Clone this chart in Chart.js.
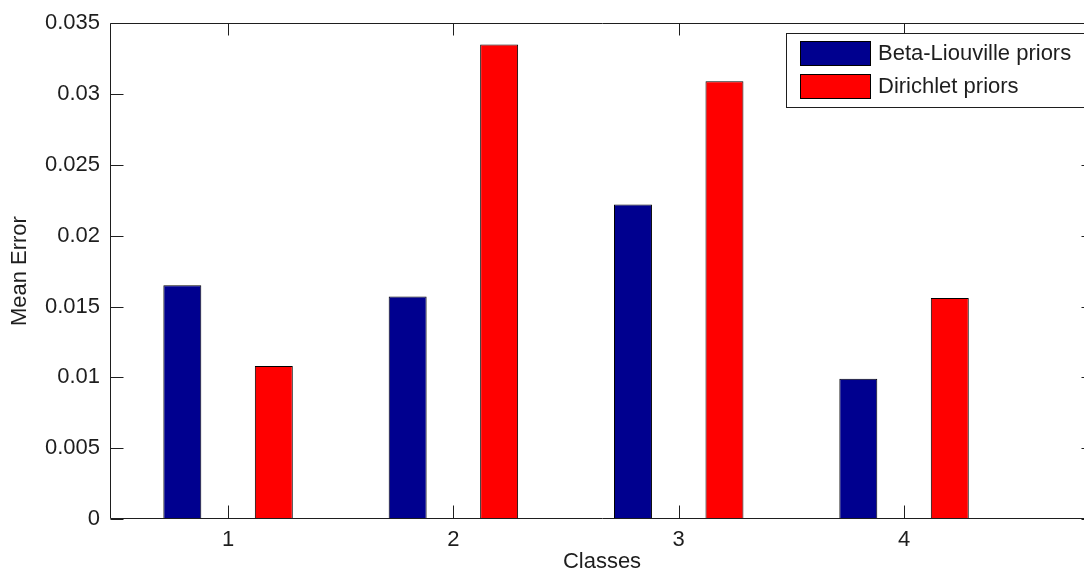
<!DOCTYPE html>
<html>
<head>
<meta charset="utf-8">
<script src="https://cdn.jsdelivr.net/npm/chart.js@4/dist/chart.umd.min.js"></script>
<style>
  html, body { margin: 0; padding: 0; background: #fff; overflow: hidden; }
  #wrap { position: absolute; left: 0; top: 0; width: 1100px; height: 571px; }
</style>
</head>
<body>
<div id="wrap"><canvas id="c"></canvas></div>
<script>
// Mean classification error per class for the two priors
const classes = [1, 2, 3, 4];
const betaLiouville = [0.0165, 0.0157, 0.0222, 0.0099];
const dirichlet = [0.0108, 0.0335, 0.0309, 0.0156];
const seriesNames = ['Beta-Liouville priors', 'Dirichlet priors'];
const yTicks = [0, 0.005, 0.01, 0.015, 0.02, 0.025, 0.03, 0.035];

const FONT = 'Liberation Sans, Arial, sans-serif';
const INK = '#1e1e1e';

// Box around the axes with inward tick marks on all four sides
const axesBox = {
  id: 'axesBox',
  afterDatasetsDraw(chart) {
    const { ctx, chartArea: a, scales: { x, y } } = chart;
    const L = Math.round(a.left) + 0.5, R = Math.round(a.right) + 0.5;
    const T = Math.round(a.top) + 0.5, B = Math.round(a.bottom) - 0.5;
    ctx.save();
    ctx.strokeStyle = INK;
    ctx.lineWidth = 1;
    ctx.beginPath();
    ctx.rect(L, T, R - L, B - T);
    y.ticks.forEach(t => {
      const py = Math.round(y.getPixelForValue(t.value)) + 0.5;
      ctx.moveTo(L, py); ctx.lineTo(L + 13, py);
      ctx.moveTo(R, py); ctx.lineTo(R - 13, py);
    });
    x.ticks.forEach(t => {
      const px = Math.round(x.getPixelForValue(t.value)) + 0.5;
      ctx.moveTo(px, B); ctx.lineTo(px, B - 13);
      ctx.moveTo(px, T); ctx.lineTo(px, T + 12);
    });
    ctx.stroke();
    ctx.restore();
  }
};

// Boxed legend in the upper right corner of the axes
const boxLegend = {
  id: 'boxLegend',
  afterDraw(chart) {
    const { ctx } = chart;
    const bx = 786, by = 33, bw = 300, bh = 74;
    ctx.save();
    ctx.fillStyle = '#fff';
    ctx.fillRect(bx, by, bw, bh);
    ctx.strokeStyle = INK;
    ctx.lineWidth = 1;
    ctx.strokeRect(bx + 0.5, by + 0.5, bw, bh);
    ctx.font = '22px ' + FONT;
    ctx.textBaseline = 'middle';
    ctx.textAlign = 'left';
    chart.data.datasets.forEach((ds, i) => {
      const sy = 41 + i * 33;
      ctx.fillStyle = ds.backgroundColor;
      ctx.fillRect(800, sy, 71, 25);
      ctx.strokeStyle = '#000';
      ctx.strokeRect(800.5, sy + 0.5, 70, 24);
      ctx.fillStyle = INK;
      ctx.fillText(ds.label, 878, sy + 13);
    });
    ctx.restore();
  }
};

new Chart(document.getElementById('c'), {
  type: 'bar',
  data: {
    datasets: [
      {
        label: seriesNames[0],
        data: classes.map((c, i) => ({ x: c, y: betaLiouville[i] })),
        backgroundColor: '#00008f',
        borderColor: '#000',
        borderWidth: 1,
        borderSkipped: false
      },
      {
        label: seriesNames[1],
        data: classes.map((c, i) => ({ x: c, y: dirichlet[i] })),
        backgroundColor: '#ff0000',
        borderColor: '#000',
        borderWidth: 1,
        borderSkipped: false
      }
    ]
  },
  options: {
    responsive: true,
    maintainAspectRatio: false,
    animation: false,
    devicePixelRatio: 1,
    categoryPercentage: 0.812,
    barPercentage: 0.415,
    layout: { padding: { left: 0, right: 6, top: 21, bottom: 0 } },
    plugins: { legend: { display: false }, tooltip: { enabled: false } },
    scales: {
      x: {
        type: 'linear',
        offset: false,
        min: 0.476,
        max: 4.843,
        afterBuildTicks: s => { s.ticks = classes.map(v => ({ value: v })); },
        afterFit: s => { s.height = 52; },
        grid: { display: false, drawTicks: false, tickLength: 0 },
        border: { display: false },
        ticks: {
          padding: 8,
          color: INK,
          font: { family: FONT, size: 22 },
          maxRotation: 0,
          autoSkip: false,
          callback: v => String(v)
        },
        title: {
          display: true,
          text: 'Classes',
          color: INK,
          font: { family: FONT, size: 22, lineHeight: 1 },
          padding: { top: 0, bottom: -2 }
        }
      },
      y: {
        min: 0,
        max: 0.035,
        afterBuildTicks: s => { s.ticks = yTicks.map(v => ({ value: v })); },
        afterFit: s => { s.width = 110; },
        grid: { display: false, drawTicks: false, tickLength: 0 },
        border: { display: false },
        ticks: {
          padding: 10,
          color: INK,
          font: { family: FONT, size: 22 },
          callback: v => String(Number(v.toFixed(3)))
        },
        title: {
          display: true,
          text: 'Mean Error',
          color: INK,
          font: { family: FONT, size: 22, lineHeight: 1 },
          padding: { top: 9, bottom: 0 }
        }
      }
    }
  },
  plugins: [axesBox, boxLegend]
});
</script>
</body>
</html>
